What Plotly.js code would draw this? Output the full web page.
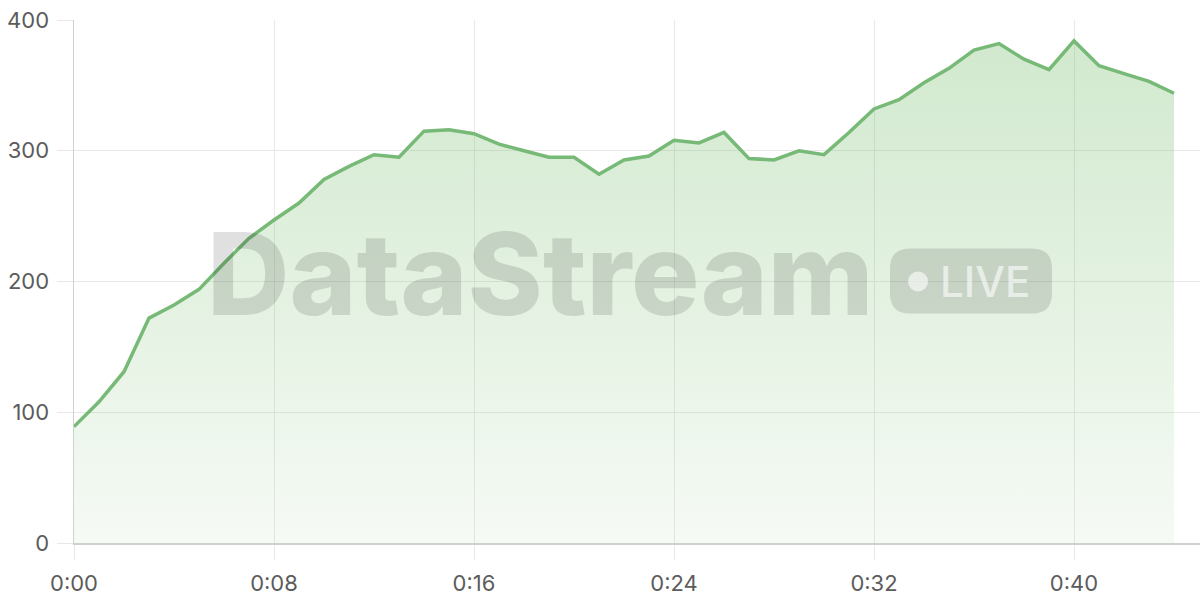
<!DOCTYPE html>
<html>
<head>
<meta charset="utf-8">
<script src="https://cdn.plot.ly/plotly-3.0.1.min.js"></script>
<style>
  html, body { margin: 0; padding: 0; background: #fff; }
  #chart { width: 1200px; height: 600px; }
</style>
</head>
<body>
<div id="chart"></div>
<script>
(function () {
    'use strict';

    // one reading per minute, 0:00 .. 0:44
    var minutes = [0, 1, 2, 3, 4, 5, 6, 7, 8, 9, 10, 11, 12, 13, 14, 15, 16, 17, 18, 19, 20, 21, 22,
                   23, 24, 25, 26, 27, 28, 29, 30, 31, 32, 33, 34, 35, 36, 37, 38, 39, 40, 41, 42, 43, 44];
    var values = [89, 108, 131, 172, 182, 194, 214, 233, 247, 260, 278, 288, 297, 295, 315,
                  316, 313, 305, 300, 295, 295, 282, 293, 296, 308, 306, 314, 294, 293, 300,
                  297, 314, 332, 339, 352, 363, 377, 382, 370, 362, 384, 365, 359, 353, 344];

    var xTickVals = [0, 8, 16, 24, 32, 40];
    var xTickText = ['0:00', '0:08', '0:16', '0:24', '0:32', '0:40'];
    var yTickVals = [0, 100, 200, 300, 400];

    var gridColor = '#e8e8e8';
    var lineColor = '#d0d0d0';
    var tickFont = { family: 'Inter, "Open Sans", sans-serif', size: 22, color: '#5c5c5c' };
    var mark = 'rgba(0,0,0,0.12)';

    var trace = {
        x: minutes,
        y: values,
        type: 'scatter',
        mode: 'lines',
        line: { color: '#77b977', width: 3.5 },
        fill: 'tozeroy',
        fillgradient: {
            type: 'vertical',
            start: 0,
            stop: 400,
            colorscale: [[0, 'rgba(120,190,110,0.07)'], [1, 'rgba(120,190,110,0.35)']]
        },
        hoverinfo: 'skip'
    };

    var layout = {
        width: 1200,
        height: 600,
        margin: { l: 74, r: 0, t: 20, b: 57 },
        paper_bgcolor: '#fff',
        plot_bgcolor: '#fff',
        showlegend: false,
        xaxis: {
            range: [0, 45.04],
            tickvals: xTickVals,
            ticktext: xTickText,
            showgrid: true,
            gridcolor: gridColor,
            ticks: 'outside',
            ticklen: 15,
            tickcolor: gridColor,
            ticklabelstandoff: 5,
            showline: true,
            linecolor: lineColor,
            linewidth: 1.5,
            zeroline: false,
            tickfont: tickFont,
            fixedrange: true
        },
        yaxis: {
            range: [0, 400],
            tickvals: yTickVals,
            showgrid: true,
            gridcolor: gridColor,
            ticks: 'outside',
            ticklen: 16,
            tickcolor: gridColor,
            ticklabelstandoff: 3,
            showline: true,
            linecolor: lineColor,
            linewidth: 1.5,
            zeroline: false,
            tickfont: tickFont,
            fixedrange: true
        },
        // watermark
        annotations: [
            {
                xref: 'paper', yref: 'paper', x: 0.414, y: 0.515,
                xanchor: 'center', yanchor: 'middle', showarrow: false,
                text: 'DataStream',
                font: { family: 'Inter, "Open Sans", sans-serif', size: 114, weight: 800, color: mark }
            },
            {
                xref: 'paper', yref: 'paper', x: 0.8095, y: 0.5,
                xanchor: 'center', yanchor: 'middle', showarrow: false,
                text: 'LIVE',
                font: { family: 'Inter, "Open Sans", sans-serif', size: 42, weight: 500, color: 'rgba(255,255,255,0.6)' }
            }
        ],
        shapes: [
            {
                type: 'path', layer: 'above',
                xref: 'paper', yref: 'paper', xsizemode: 'pixel', ysizemode: 'pixel',
                xanchor: 0.7966, yanchor: 0.501,
                path: 'M -61 -32.5 L 61 -32.5 Q 81 -32.5 81 -12.5 L 81 12.5 Q 81 32.5 61 32.5 ' +
                      'L -61 32.5 Q -81 32.5 -81 12.5 L -81 -12.5 Q -81 -32.5 -61 -32.5 Z',
                fillcolor: mark, line: { width: 0 }
            },
            {
                type: 'circle', layer: 'above',
                xref: 'paper', yref: 'paper', xsizemode: 'pixel', ysizemode: 'pixel',
                xanchor: 0.7496, yanchor: 0.5,
                x0: -10, x1: 10, y0: -10, y1: 10,
                fillcolor: 'rgba(255,255,255,0.6)', line: { width: 0 }
            }
        ]
    };

    Plotly.newPlot('chart', [trace], layout, { displayModeBar: false, staticPlot: true });
})();
</script>
</body>
</html>
